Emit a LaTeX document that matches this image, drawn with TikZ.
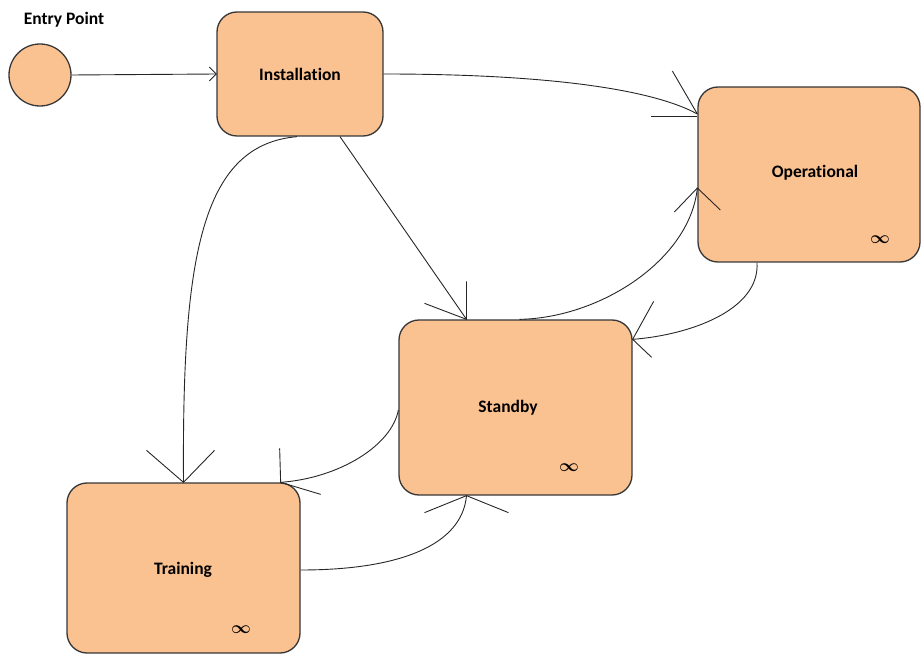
\documentclass[tikz,border=0pt]{standalone}
\usepackage{fontspec}
\setmainfont{Carlito}[Ligatures=NoCommon]
\usetikzlibrary{calc}
\definecolor{statefill}{RGB}{250,193,145}
\definecolor{stateline}{RGB}{55,55,55}
\begin{document}
\begin{tikzpicture}[x=1pt,y=-1pt,
  state/.style={draw=stateline,line width=1.3pt,fill=statefill,rounded corners=20pt,
    font=\fontsize{17.5}{20}\selectfont\bfseries,inner sep=0pt},
  initstate/.style={circle,draw=stateline,line width=1.3pt,fill=statefill,minimum size=62pt,inner sep=0pt},
  statename/.style={font=\fontsize{17.5}{20}\selectfont\bfseries},
  link/.style={draw=black!85,line width=0.9pt},
  tip/.style={draw=black!85,line width=0.9pt},
  mult/.style={font=\fontsize{19}{20}\selectfont\boldmath}]
\useasboundingbox (0,0) rectangle (922,655);

% states
\node[initstate] (ent) at (40,75) {};
\node[statename] (entlbl) at (64,20) {Entry Point};
\node[state,minimum width=166pt,minimum height=124pt] (ins) at (300,74) {Installation};
\node[state,minimum width=222pt,minimum height=175pt] (ope) at (809,174.5) {};
\node[statename] (opelbl) at (815,173) {Operational};
\node[state,minimum width=233pt,minimum height=175pt] (stb) at (515.5,407.5) {};
\node[statename] (stblbl) at (508,408) {Standby};
\node[state,minimum width=233pt,minimum height=170pt] (tra) at (183.5,568) {};
\node[statename] (tralbl) at (183,570) {Training};

% multiplicity marks
\node[mult] (opeinf) at (880,240) {$\infty$};
\node[mult] (stbinf) at (569,468) {$\infty$};
\node[mult] (trainf) at (241,630) {$\infty$};

% connector end points on the state borders
\coordinate (insB) at ($(ins.south)+(40,0)$);
\coordinate (insC) at ($(ins.south)+(-3,0)$);
\coordinate (opeA) at ($(ope.west)+(0,-60.5)$);
\coordinate (opeB) at ($(ope.west)+(0,13.5)$);
\coordinate (opeS) at ($(ope.south)+(-52,0)$);
\coordinate (stbN) at ($(stb.north)+(-49,0)$);
\coordinate (stbT) at ($(stb.north)+(4,0)$);
\coordinate (stbE) at ($(stb.north east)+(0,20)$);
\coordinate (stbW) at ($(stb.west)+(0,2.5)$);
\coordinate (stbS) at ($(stb.south)+(-49,0)$);
\coordinate (traN) at (tra.north);
\coordinate (traC) at ($(tra.north east)+(-20,0)$);
\coordinate (traE) at ($(tra.east)+(0,2)$);

% entry -> installation
\path[link] (ent.east) -- (ins.west);
\path[tip] ($(ins.west)+(-7,-7)$) -- (ins.west) -- ($(ins.west)+(-7,7)$);

% installation -> operational
\path[link] (ins.east) .. controls (540,74) and (650,88) .. (opeA);
\path[tip] ($(opeA)+(-25,-43)$) -- (opeA);
\path[tip] ($(opeA)+(-46,2)$) -- ($(opeA)+(0,2)$);

% installation -> standby
\path[link] (insB) -- (stbN);
\path[tip] ($(stbN)+(-42,-16)$) -- (stbN) -- ($(stbN)+(0,-38)$);

% installation -> training
\path[link] (insC) .. controls (200,145) and (182,260) .. (traN);
\path[tip] ($(traN)+(-37,-32)$) -- (traN) -- ($(traN)+(31,-32)$);

% standby -> operational
\path[link] (stbT) .. controls (600,318) and (690,260) .. (opeB);
\path[tip] ($(opeB)+(-23,24)$) -- (opeB) -- ($(opeB)+(23,22)$);

% operational -> standby
\path[link] (opeS) .. controls (760,310) and (690,335) .. (stbE);
\path[tip] ($(stbE)+(21,-38)$) -- (stbE) -- ($(stbE)+(19,18)$);

% standby -> training
\path[link] (stbW) .. controls (392,445) and (340,478) .. (traC);
\path[tip] ($(traC)+(-1,-34)$) -- (traC) -- ($(traC)+(40,12)$);

% training -> standby
\path[link] (traE) .. controls (400,570) and (462,545) .. (stbS);
\path[tip] ($(stbS)+(-42,17)$) -- (stbS) -- ($(stbS)+(42,17)$);
\end{tikzpicture}
\end{document}
